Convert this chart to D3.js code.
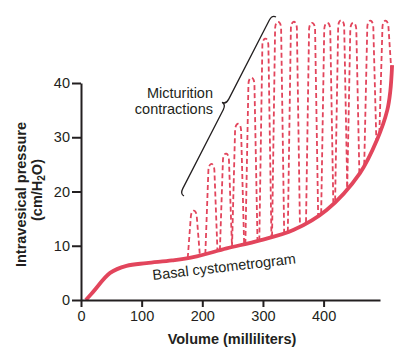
<!DOCTYPE html>
<html>
<head>
<meta charset="utf-8">
<script src="https://cdn.jsdelivr.net/npm/d3@7/dist/d3.min.js"></script>
<style>
  html, body { margin: 0; padding: 0; background: #fff; }
  svg { display: block; }
  text { font-family: "Liberation Sans", Arial, Helvetica, sans-serif; fill: #231f20; }
</style>
</head>
<body>
<svg id="chart" width="413" height="355"></svg>
<script>
// ---- data ----
const basalVolume   = [8, 20, 48, 75, 108, 150, 185, 240, 295, 350, 405, 460, 488, 505, 510, 513];
const basalPressure = [0, 1.5, 5, 6.3, 6.8, 7.3, 7.9, 9.5, 11, 12.9, 16.6, 23.4, 29.5, 35, 38.5, 43.3];

const spikeVolume = [186, 215, 239, 259, 281, 304, 325, 351, 381, 406, 429, 449, 477, 502];
const spikePeak   = [16.6, 25.2, 27.1, 32.6, 41.1, 48.3, 51.4, 51.4, 51.2, 51.2, 51.7, 51.2, 51.6, 51.6];
const spikeStart  = [176, 205, 229, 249, 271, 294, 315, 341, 371, 396, 419, 439, 467, 492];
const spikeEnd    = [196, 225, 249, 269, 291, 314, 335, 361, 391, 416, 439, 459, 487, 512];

const xTicks = [0, 100, 200, 300, 400];
const yTicks = [0, 10, 20, 30, 40];

// ---- layout ----
const svg = d3.select("#chart");
const x = d3.scaleLinear().domain([0, 493]).range([81, 380]);
const y = d3.scaleLinear().domain([0, 40]).range([300, 83]);
const red = "#e2455c";
const ink = "#231f20";
const fs = "14.5px";

// basal interpolation for spike feet
const basalAt = d3.scaleLinear().domain(basalVolume).range(basalPressure);

// spikes (dashed)
const spikes = svg.append("g");
spikeVolume.forEach((v, i) => {
  const p = d3.path();
  const xL = x(spikeStart[i]), yL = y(basalAt(spikeStart[i]));
  const xR = x(spikeEnd[i]), yR = y(basalAt(spikeEnd[i]));
  const xP = x(v), yP = y(spikePeak[i]);
  p.moveTo(xL, yL);
  p.lineTo(xP - 3, yP + 7);
  p.bezierCurveTo(xP - 2.5, yP - 1.5, xP + 2.5, yP - 1.5, xP + 3, yP + 7);
  p.lineTo(xR, yR);
  spikes.append("path")
    .attr("d", p.toString())
    .attr("fill", "none")
    .attr("stroke", red)
    .attr("stroke-width", 1.8)
    .attr("stroke-dasharray", "5,3");
});

// basal curve
const basalLine = d3.line()
  .x((d, i) => x(basalVolume[i]))
  .y((d, i) => y(basalPressure[i]))
  .curve(d3.curveCatmullRom.alpha(0.5));
svg.append("path")
  .attr("d", basalLine(basalVolume))
  .attr("fill", "none")
  .attr("stroke", red)
  .attr("stroke-width", 3.8)
  .attr("stroke-linecap", "butt");

// axes
const gx = svg.append("g").attr("transform", `translate(0,${y(0)})`)
  .call(d3.axisBottom(x).tickValues(xTicks).tickSize(7).tickSizeOuter(0).tickPadding(4));
const gy = svg.append("g").attr("transform", `translate(${x(0)},0)`)
  .call(d3.axisLeft(y).tickValues(yTicks).tickSize(9).tickSizeOuter(0).tickPadding(2));
[gx, gy].forEach(g => {
  g.select(".domain").attr("stroke", ink).attr("stroke-width", 2);
  g.selectAll(".tick line").attr("stroke", ink).attr("stroke-width", 2);
  g.selectAll(".tick text").attr("fill", ink)
    .style("font-family", '"Liberation Sans", Arial, sans-serif').style("font-size", fs);
});

// axis titles
svg.append("text")
  .attr("x", 232).attr("y", 343.5)
  .attr("text-anchor", "middle")
  .style("font-size", fs).style("font-weight", "bold")
  .text("Volume (milliliters)");

svg.append("text")
  .attr("transform", "translate(26.4,194.5) rotate(-90)")
  .attr("text-anchor", "middle")
  .style("font-size", fs).style("font-weight", "bold")
  .text("Intravesical pressure");

const t2 = svg.append("text")
  .attr("transform", "translate(42.3,190) rotate(-90)")
  .attr("text-anchor", "middle")
  .style("font-size", fs).style("font-weight", "bold");
t2.append("tspan").text("(cm/H");
t2.append("tspan").attr("dy", 3).style("font-size", "10px").text("2");
t2.append("tspan").attr("dy", -3).text("O)");

// annotations
svg.append("text")
  .attr("transform", "translate(224.7,271.7) rotate(-6.6)")
  .attr("text-anchor", "middle")
  .style("font-size", fs)
  .text("Basal cystometrogram");

svg.append("text").attr("x", 213).attr("y", 97.5).attr("text-anchor", "end")
  .style("font-size", fs).text("Micturition");
svg.append("text").attr("x", 213).attr("y", 113.5).attr("text-anchor", "end")
  .style("font-size", fs).text("contractions");

// brace
const bx0 = 184, by0 = 196, bx1 = 276, by1 = 17;
const L = Math.hypot(bx1 - bx0, by1 - by0);
const ang = Math.atan2(by1 - by0, bx1 - bx0) * 180 / Math.PI;
const h = 9;
const bp = d3.path();
bp.moveTo(0, 0);
bp.quadraticCurveTo(0, -h / 2, 6, -h / 2);
bp.lineTo(L / 2 - 6, -h / 2);
bp.quadraticCurveTo(L / 2, -h / 2, L / 2, -h);
bp.quadraticCurveTo(L / 2, -h / 2, L / 2 + 6, -h / 2);
bp.lineTo(L - 6, -h / 2);
bp.quadraticCurveTo(L, -h / 2, L, 0);
svg.append("path")
  .attr("d", bp.toString())
  .attr("transform", `translate(${bx0},${by0}) rotate(${ang})`)
  .attr("fill", "none")
  .attr("stroke", ink)
  .attr("stroke-width", 1.3);
</script>
</body>
</html>
